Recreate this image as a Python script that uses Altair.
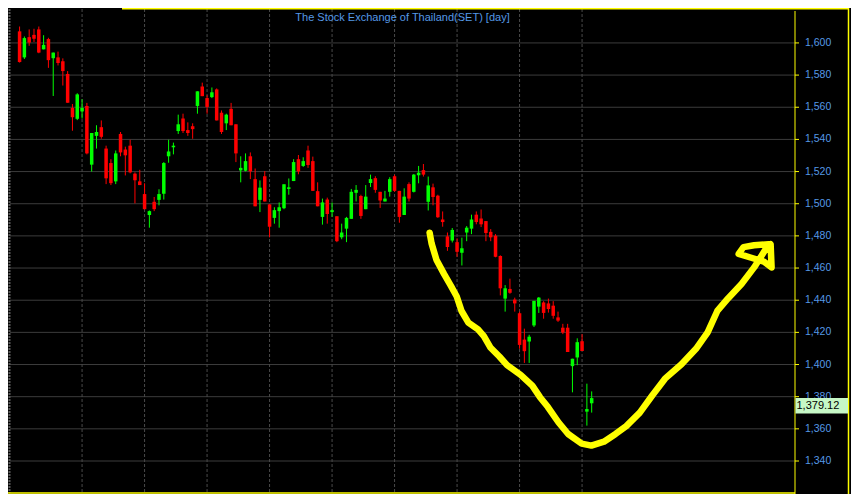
import altair as alt
import pandas as pd

# ---- data (daily candles, oldest first) ----
opens = [1607.2, 1591.0, 1603.6, 1605.0, 1608.4, 1596.0, 1602.4, 1590.5, 1591.0, 1588.6,
         1580.7, 1559.6, 1552.8, 1557.4, 1560.8, 1524.3, 1542.2, 1547.6, 1534.3, 1525.3,
         1513.9, 1543.4, 1533.7, 1536.1, 1518.7, 1513.9, 1506.0, 1493.0, 1501.2, 1502.4,
         1506.2, 1529.5, 1535.1, 1545.2, 1553.0, 1545.8, 1548.2, 1560.8, 1572.9, 1565.7,
         1566.3, 1571.1, 1556.6, 1550.0, 1559.0, 1549.4, 1520.7, 1520.5, 1529.5, 1515.3,
         1502.4, 1517.1, 1499.6, 1491.2, 1495.4, 1497.2, 1509.2, 1514.1, 1527.7, 1523.5,
         1533.1, 1526.5, 1507.8, 1491.8, 1502.6, 1494.8, 1492.2, 1479.1, 1484.5, 1490.6,
         1506.8, 1504.8, 1496.6, 1512.9, 1515.9, 1507.4, 1501.4, 1507.4, 1517.1, 1508.0,
         1493.0, 1512.2, 1507.4, 1517.7, 1520.9, 1501.2, 1510.2, 1505.0, 1490.2, 1479.7,
         1477.1, 1476.1, 1469.5, 1482.1, 1484.5, 1493.2, 1490.8, 1489.2, 1482.5, 1480.1,
         1467.5, 1441.0, 1447.0, 1440.4, 1431.9, 1415.5, 1414.3, 1424.3, 1436.0, 1438.6,
         1438.0, 1436.6, 1429.3, 1422.9, 1422.9, 1399.0, 1404.4, 1414.5, 1370.7, 1375.9]
highs = [1610.2, 1604.0, 1608.4, 1608.8, 1610.2, 1604.8, 1603.2, 1594.0, 1594.6, 1590.4,
         1582.5, 1562.0, 1568.7, 1565.0, 1562.7, 1544.0, 1548.8, 1551.8, 1536.1, 1527.7,
         1533.1, 1544.6, 1535.5, 1539.8, 1519.5, 1521.1, 1512.7, 1495.8, 1504.2, 1509.0,
         1525.9, 1539.8, 1538.0, 1555.4, 1556.0, 1550.6, 1550.0, 1569.9, 1575.3, 1567.5,
         1572.3, 1571.7, 1558.0, 1556.0, 1562.7, 1549.4, 1529.5, 1531.3, 1531.9, 1521.9,
         1514.5, 1520.3, 1499.6, 1497.8, 1500.8, 1512.1, 1515.7, 1527.7, 1530.3, 1528.9,
         1536.1, 1529.3, 1513.3, 1503.2, 1503.8, 1500.8, 1492.2, 1487.6, 1491.8, 1509.2,
         1511.6, 1505.6, 1511.6, 1518.1, 1517.1, 1507.4, 1508.0, 1516.5, 1518.1, 1508.0,
         1509.6, 1513.3, 1518.5, 1523.5, 1524.7, 1516.9, 1512.5, 1505.6, 1495.2, 1482.1,
         1484.9, 1478.5, 1478.9, 1486.1, 1493.2, 1495.2, 1496.4, 1489.2, 1484.2, 1481.1,
         1467.9, 1449.4, 1453.4, 1441.6, 1432.9, 1422.3, 1418.5, 1439.6, 1442.0, 1439.4,
         1441.0, 1439.4, 1432.9, 1425.3, 1425.3, 1403.6, 1416.3, 1418.9, 1388.1, 1383.3]
lows = [1587.8, 1590.0, 1598.2, 1600.6, 1593.6, 1596.0, 1584.5, 1567.0, 1586.0, 1573.5,
        1562.8, 1545.4, 1552.0, 1553.0, 1530.7, 1520.0, 1534.3, 1540.4, 1512.2, 1511.6,
        1512.2, 1529.5, 1517.6, 1518.9, 1500.2, 1511.6, 1496.6, 1485.1, 1495.4, 1499.0,
        1502.6, 1525.5, 1530.7, 1543.4, 1544.0, 1542.2, 1540.4, 1556.0, 1566.9, 1556.0,
        1565.7, 1551.8, 1543.4, 1545.8, 1548.8, 1525.9, 1513.3, 1520.1, 1515.3, 1498.4,
        1494.8, 1501.4, 1479.1, 1487.6, 1485.1, 1496.6, 1505.6, 1514.1, 1518.3, 1522.9,
        1522.3, 1508.0, 1498.4, 1487.0, 1487.6, 1491.8, 1476.1, 1477.9, 1476.1, 1490.6,
        1501.4, 1490.6, 1496.6, 1510.4, 1506.8, 1497.4, 1501.4, 1504.4, 1507.4, 1488.2,
        1493.0, 1501.4, 1507.0, 1512.7, 1516.9, 1495.8, 1499.0, 1491.2, 1485.7, 1470.7,
        1475.9, 1467.0, 1461.6, 1476.7, 1481.1, 1487.2, 1485.5, 1476.7, 1476.7, 1466.7,
        1443.0, 1432.9, 1444.0, 1432.9, 1409.8, 1401.0, 1401.0, 1423.3, 1432.1, 1428.5,
        1432.3, 1428.5, 1426.5, 1418.9, 1407.8, 1382.7, 1399.6, 1408.4, 1362.0, 1370.1]
closes = [1588.1, 1603.0, 1600.2, 1602.6, 1594.0, 1598.8, 1589.3, 1594.0, 1587.5, 1582.5,
          1562.8, 1553.8, 1568.0, 1559.6, 1531.3, 1544.0, 1544.6, 1541.6, 1515.8, 1512.8,
          1531.3, 1531.9, 1530.1, 1519.5, 1514.6, 1511.6, 1496.6, 1495.4, 1496.6, 1506.0,
          1525.3, 1532.5, 1536.1, 1549.4, 1545.2, 1544.0, 1546.4, 1569.9, 1566.9, 1560.2,
          1569.3, 1551.8, 1544.6, 1555.4, 1548.8, 1531.3, 1522.3, 1526.5, 1520.1, 1498.4,
          1510.0, 1501.4, 1485.7, 1496.0, 1497.8, 1512.1, 1510.2, 1525.9, 1520.1, 1526.5,
          1524.1, 1508.0, 1498.4, 1500.8, 1493.6, 1496.0, 1476.7, 1482.1, 1491.2, 1507.4,
          1508.6, 1492.4, 1504.4, 1515.3, 1508.6, 1502.0, 1503.2, 1515.3, 1508.0, 1491.8,
          1504.4, 1503.2, 1518.1, 1519.3, 1518.1, 1511.4, 1504.2, 1491.6, 1488.6, 1473.1,
          1483.7, 1470.1, 1472.3, 1485.1, 1490.2, 1488.6, 1487.2, 1481.8, 1479.1, 1467.0,
          1447.4, 1447.4, 1444.6, 1438.0, 1412.2, 1408.3, 1417.3, 1439.6, 1441.6, 1432.1,
          1434.5, 1430.3, 1427.3, 1419.9, 1407.8, 1403.6, 1413.9, 1408.4, 1372.3, 1379.12]

# period separators (candle index) and price-axis tick labels
grid_index = [14, 27, 40, 53, 66, 79, 92, 105, 118]
price_ticks = [1340, 1360, 1380, 1400, 1420, 1440, 1460, 1480, 1500, 1520, 1540, 1560, 1580, 1600]

# hand-drawn yellow annotation (candle index, price)
curve_index = [86.29, 86.69, 87.70, 89.31, 90.72, 91.93, 92.93, 94.35, 96.36, 97.57,
               98.98, 100.79, 102.40, 105.22, 107.64, 109.25, 110.86, 113.08, 115.10, 117.92,
               119.93, 122.55, 124.97, 127.19, 130.01, 132.63, 135.25, 138.68, 141.70, 144.12,
               146.13, 148.35, 151.17, 153.79, 155.20, 156.21, 157.22, 157.42, 155.81, 153.19,
               150.57, 151.58, 153.79, 156.81]
curve_price = [1482.0, 1475.4, 1465.2, 1456.2, 1448.9, 1442.3, 1433.3, 1426.1, 1421.8, 1417.6,
               1410.4, 1405.0, 1399.6, 1393.6, 1386.9, 1379.7, 1373.7, 1364.1, 1356.8, 1350.8,
               1349.6, 1352.0, 1356.8, 1361.7, 1370.1, 1380.9, 1391.2, 1400.2, 1409.8, 1420.0,
               1433.3, 1441.1, 1450.1, 1460.4, 1467.0, 1471.8, 1474.8, 1460.4, 1464.0, 1466.4,
               1468.8, 1473.0, 1474.2, 1474.8]

title_text = "The Stock Exchange of Thailand(SET) [day]"

# ---- layout / style ----
W, H = 785, 484
BLUE = "#5599e6"
YELLOW = "#ffff00"
FONT = "Liberation Sans"

df = pd.DataFrame({"i": list(range(1, len(opens) + 1)), "open": opens, "high": highs,
                   "low": lows, "close": closes})
df["dir"] = ["up" if c >= o else "down" for o, c in zip(opens, closes)]

xs = alt.Scale(domain=[0.05, 161.25], nice=False, zero=False)
ys = alt.Scale(domain=[1320.1, 1621.1], nice=False, zero=False)
col = alt.Color("dir:N", scale=alt.Scale(domain=["up", "down"], range=["#00ff00", "#ff0000"]),
                legend=None)

ticks_df = pd.DataFrame({"p": price_ticks})

# horizontal price grid at every tick value
hgrid = alt.Chart(ticks_df).mark_rule(color="#3c3c3c", strokeWidth=1).encode(
    y=alt.Y("p:Q", scale=ys, axis=None))

vgrid = alt.Chart(pd.DataFrame({"i": grid_index})).mark_rule(
    color="#4a4a4a", strokeDash=[3, 2], strokeWidth=1
).encode(x=alt.X("i:Q", scale=xs, axis=None))

# right price axis: ticks + labels
axis_ticks = alt.Chart(ticks_df).mark_rule(color=YELLOW, strokeWidth=1).encode(
    x=alt.value(W), x2=alt.value(W + 4), y=alt.Y("p:Q", scale=ys, axis=None))
axis_labels = alt.Chart(ticks_df).mark_text(
    color=BLUE, font=FONT, fontSize=10.5, align="left", baseline="middle"
).encode(x=alt.value(W + 10), y=alt.Y("p:Q", scale=ys, axis=None),
         text=alt.Text("p:Q", format=",d"))

base = alt.Chart(df)
wicks = base.mark_rule(strokeWidth=1).encode(
    x=alt.X("i:Q", scale=xs, axis=None),
    y=alt.Y("low:Q", scale=ys, axis=None),
    y2="high:Q",
    color=col,
)
bodies = base.mark_bar(size=3.5).encode(
    x=alt.X("i:Q", scale=xs, axis=None),
    y=alt.Y("open:Q", scale=ys, axis=None),
    y2="close:Q",
    color=col,
)

curve_df = pd.DataFrame({"i": curve_index, "p": curve_price,
                         "k": list(range(len(curve_index)))})
curve = alt.Chart(curve_df).mark_line(
    color=YELLOW, strokeWidth=6.5, strokeCap="round", strokeJoin="round"
).encode(x=alt.X("i:Q", scale=xs, axis=None), y=alt.Y("p:Q", scale=ys, axis=None),
         order="k:Q")

title = alt.Chart(pd.DataFrame({"t": [title_text]})).mark_text(
    color=BLUE, font=FONT, fontSize=11, align="center", baseline="middle"
).encode(text="t:N", x=alt.value(W / 2), y=alt.value(9))

one = pd.DataFrame({"a": [0]})
frame_top = alt.Chart(one).mark_rule(color=YELLOW, strokeWidth=1.5).encode(
    x=alt.value(112), x2=alt.value(W + 54), y=alt.value(-0.3))
frame_right = alt.Chart(one).mark_rule(color=YELLOW, strokeWidth=1.5).encode(
    x=alt.value(W + 53.5), y=alt.value(-1), y2=alt.value(H + 1))
frame_axis = alt.Chart(one).mark_rule(color=YELLOW, strokeWidth=1).encode(
    x=alt.value(W), y=alt.value(2), y2=alt.value(H + 1))
frame_bottom = alt.Chart(one).mark_rule(color=YELLOW, strokeWidth=1.5).encode(
    x=alt.value(-2), x2=alt.value(W), y=alt.value(H))
frame_left = alt.Chart(one).mark_rule(
    color="#5a5a5a", strokeWidth=2, strokeDash=[2, 1]).encode(
    x=alt.value(-0.5), y=alt.value(0), y2=alt.value(H))

last = alt.Chart(df.tail(1))
price_box = last.transform_calculate(bottom="datum.close - 9.6").mark_rect(color="#c6f7c6").encode(
    x=alt.value(W + 0.5), x2=alt.value(W + 53),
    y=alt.Y("close:Q", scale=ys, axis=None), y2="bottom:Q")
price_text = last.mark_text(color="#000000", font=FONT, fontSize=11, align="left",
                            baseline="middle", dy=8).encode(
    x=alt.value(W + 1.5), y=alt.Y("close:Q", scale=ys, axis=None),
    text=alt.Text("close:Q", format=",.2f"))

chart = alt.layer(
    hgrid, vgrid, wicks, bodies, curve, title, frame_top, frame_right, frame_left,
    frame_bottom, axis_ticks, axis_labels, frame_axis, price_box, price_text
).properties(
    width=W, height=H, background="#000000",
    padding={"left": 2, "top": 1, "right": 56, "bottom": 1},
    autosize=alt.AutoSizeParams(type="none"),
).configure_view(stroke=None)

chart.save("out.html", embed_options={"renderer": "svg", "actions": False})
